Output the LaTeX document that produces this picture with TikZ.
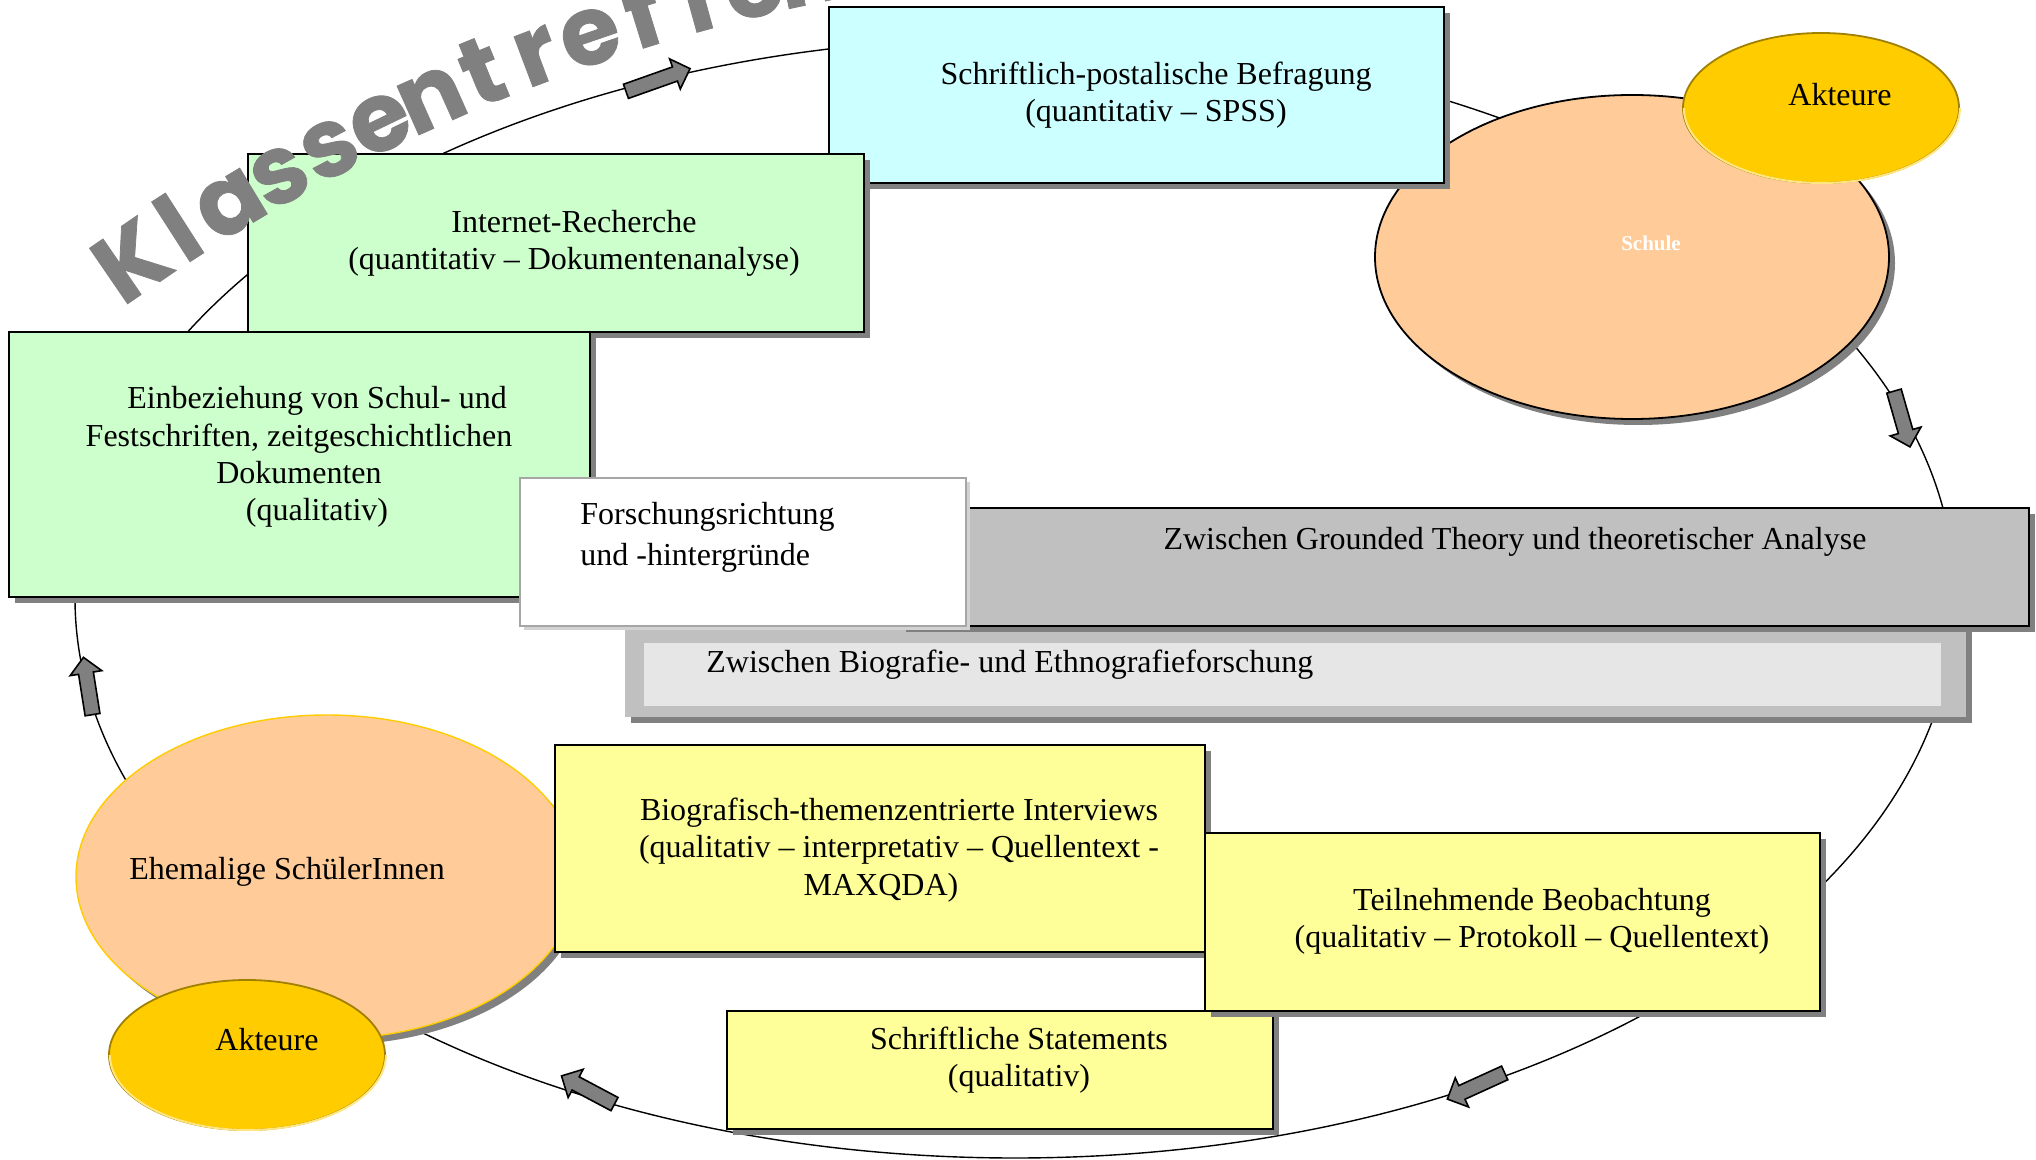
\documentclass[tikz,border=0pt]{standalone}
\usepackage{fontspec}
\setmainfont{Liberation Serif}
\newfontfamily\klfont{Poppins}[BoldFeatures={FakeBold=0.8}]
\usetikzlibrary{shapes.geometric,shadows}
\definecolor{cyanbox}{HTML}{CCFFFF}
\definecolor{greenbox}{HTML}{CCFFCC}
\definecolor{yellowbox}{HTML}{FFFF99}
\definecolor{peach}{HTML}{FFCC99}
\definecolor{gold}{HTML}{FFCC00}
\definecolor{golddark}{HTML}{A08000}
\definecolor{goldlight}{HTML}{FFE680}
\definecolor{grayU}{HTML}{C0C0C0}
\definecolor{grayL}{HTML}{E6E6E6}
\definecolor{shadowgray}{HTML}{808080}
\begin{document}
\begin{tikzpicture}[x=0.5pt,y=-0.5pt,
  shd/.style={drop shadow={shadow xshift=3pt,shadow yshift=-3pt,fill=shadowgray,opacity=1}},
  box/.style={rectangle,draw=black,line width=0.9pt,shd,inner sep=0pt},
  txt/.style={font=\fontsize{16}{18.6}\selectfont,align=center,inner sep=0pt},
  blockarrow/.style={fill=shadowgray,draw=black,line width=0.8pt,line join=miter},
  akteur/.style={ellipse,fill=gold,draw=golddark,line width=0.9pt,inner sep=0pt,
     minimum width=138pt,minimum height=75pt},
  kl/.style={font=\klfont\bfseries\fontsize{48}{48}\selectfont,text=shadowgray,inner sep=0pt}
]
\useasboundingbox (0,0) rectangle (2036,1160);
\fill[white] (0,0) rectangle (2036,1160);
\clip (0,0) rectangle (2036,1160);

% cycle
\node[ellipse,draw,line width=0.7pt,minimum width=940pt,minimum height=560pt,inner sep=0pt] (cycle) at (1015,598) {};

% block arrows on the cycle
\foreach \px/\py/\ang/\len in {658/80/19.5/68, 1902/419/-74/58, 1476/1086/204.5/63, 588/1090/152/60, 88/686/99/58}{
  \draw[blockarrow,shift={(\px,\py)},rotate=\ang]
    ({-0.5*\len},-7.5) -- ({0.5*\len-16},-7.5) -- ({0.5*\len-16},-16) -- ({0.5*\len},0)
    -- ({0.5*\len-16},16) -- ({0.5*\len-16},7.5) -- ({-0.5*\len},7.5) -- cycle;
}

% Schule
\node[ellipse,fill=peach,draw=black,line width=0.9pt,shd,minimum width=257pt,minimum height=162pt,inner sep=0pt] (schule) at (1632,257) {};
\node[font=\bfseries\fontsize{10.5}{12}\selectfont,text=white,inner sep=0pt] (schuletxt) at (1651,243) {Schule};

% Akteure top
\node[akteur] (akt1) at (1821,108) {};
\draw[goldlight,line width=1pt] (akt1.east) arc[start angle=0,end angle=180,x radius=138,y radius=75];
\node[txt] (akt1txt) at (1840,95) {Akteure};

% Befragung
\node[box,fill=cyanbox,minimum width=307.5pt,minimum height=88pt] (befr) at (1136.5,95) {};
\node[txt] (befrtxt) at (1156,95.5) {Schriftlich-postalische Befragung\\(quantitativ – SPSS)};

% Internet
\node[box,fill=greenbox,minimum width=308pt,minimum height=89pt] (inet) at (556,243) {};
\node[txt] (inettxt) at (574,243.5) {Internet-Recherche\\(quantitativ – Dokumentenanalyse)};

% Einbeziehung
\node[box,fill=greenbox,minimum width=290.5pt,minimum height=132.5pt] (einb) at (299.5,464.5) {};
\node[txt] (einbtxt) at (299,457) {\hspace*{18pt}Einbeziehung von Schul- und\\Festschriften, zeitgeschichtlichen\\Dokumenten\\\hspace*{18pt}(qualitativ)};

% lower gray frame
\node[rectangle,fill=grayU,shd,minimum width=670.5pt,minimum height=78.5pt,inner sep=0pt] (biog) at (1295.5,638.5) {};
\node[rectangle,fill=grayL,minimum width=648.5pt,minimum height=31.5pt,inner sep=0pt] (biogin) at (1292.5,674.5) {};
\node[txt,anchor=west] (biogtxt) at (706,665) {Zwischen Biografie- und Ethnografieforschung};

% upper gray box
\node[box,fill=grayU,minimum width=564.5pt,minimum height=59pt] (grounded) at (1464.5,567) {};
\node[txt] (groundedtxt) at (1515,542) {Zwischen Grounded Theory und theoretischer Analyse};

% white box
\node[rectangle,fill=white,draw=gray!70,line width=0.6pt,inner sep=0pt,
  drop shadow={shadow xshift=2pt,shadow yshift=-2pt,fill=gray!35,opacity=1},
  minimum width=223pt,minimum height=74pt] (forsch) at (743,552) {};
\node[font=\fontsize{16}{20.5}\selectfont,align=left,inner sep=0pt,anchor=west] (forschtxt) at (580,537.5) {Forschungsrichtung\\und -hintergründe};

% Ehemalige
\node[ellipse,fill=peach,draw=gold,line width=0.7pt,shd,minimum width=251pt,minimum height=162pt,inner sep=0pt] (ehem) at (327,877) {};
\node[txt] (ehemtxt) at (287,872) {Ehemalige SchülerInnen};

% Interviews
\node[box,fill=yellowbox,minimum width=325pt,minimum height=103.5pt] (interv) at (880,848.5) {};
\node[txt] (intervtxt) at (899,850) {Biografisch-themenzentrierte Interviews\\(qualitativ – interpretativ – Quellentext -\\MAXQDA)\hspace*{18pt}};

% Akteure bottom
\node[akteur] (akt2) at (247,1055) {};
\draw[goldlight,line width=1pt] (akt2.east) arc[start angle=0,end angle=180,x radius=138,y radius=75];
\node[txt] (akt2txt) at (267,1040) {Akteure};

% Statements
\node[box,fill=yellowbox,minimum width=273pt,minimum height=59pt] (stat) at (1000,1070) {};
\node[txt] (stattxt) at (1019,1060) {Schriftliche Statements\\(qualitativ)};

% Teilnehmende
\node[box,fill=yellowbox,minimum width=307.5pt,minimum height=89pt] (teiln) at (1512.5,922) {};
\node[txt] (teilntxt) at (1532,921) {Teilnehmende Beobachtung\\(qualitativ – Protokoll – Quellentext)};

% Klassentreffen along an arc
\foreach \ch [count=\i from 0] in {K,l,a,s,s,e,n,t,r,e,f,f,e,n}{
  \pgfmathsetmacro\kang{124.45-1.7306*\i}
  \node[kl,rotate=\kang-90,anchor=base] (kl\i) at ({1199+1854*cos(\kang)},{1817-1854*sin(\kang)}) {\ch};
}
\end{tikzpicture}
\end{document}
